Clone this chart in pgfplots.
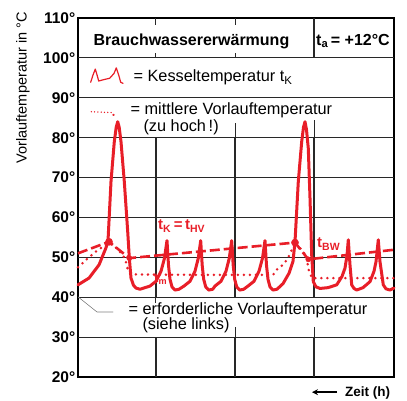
\documentclass[border=0pt]{standalone}
\usepackage{pgfplots}
\pgfplotsset{compat=1.18}
\usetikzlibrary{arrows.meta}
\usepackage{fontspec}
\setmainfont{Liberation Sans}
\definecolor{cred}{RGB}{232,30,40}
\definecolor{gridc}{RGB}{40,40,40}
\begin{document}
\begin{tikzpicture}[x=1pt,y=1pt]
\path[use as bounding box] (-78,-24) rectangle (329,377);
\begin{axis}[
 at={(0,0)}, anchor=south west,
 scale only axis, width=316pt, height=359pt,
 xmin=0, xmax=316, ymin=20, ymax=110,
 axis line style={black, line width=1.2pt},
 xtick=\empty,
 ytick={20,30,...,110},
 major tick length=0pt,
 /pgf/number format/assume math mode=true,
 yticklabel={\pgfmathprintnumber{\tick}°},
 yticklabel style={font=\fontsize{15.5}{15.5}\selectfont\bfseries, xshift=0pt, inner xsep=2.5pt},
 clip=false,
 every axis plot/.append style={line join=round, line cap=round},
]
% horizontal lines
\foreach \yy in {30,40,50,60,70,80,90,100}{
  \edef\temp{\noexpand\draw[gridc, line width=1.1pt] (axis cs:0,\yy) -- (axis cs:316,\yy);}
  \temp
}
% vertical grid segments
\foreach \xx in {78,157,236}{
  \edef\temp{\noexpand\draw[gridc, line width=1.1pt] (axis cs:\xx,20) -- (axis cs:\xx,30);
    \noexpand\draw[gridc, line width=1.1pt] (axis cs:\xx,40) -- (axis cs:\xx,80);}
  \temp
}
\draw[gridc, line width=1.1pt] (axis cs:236,100) -- (axis cs:236,110);
\draw[gridc, line width=1pt] (axis cs:78,110) -- (axis cs:78,108.3);
\draw[gridc, line width=1pt] (axis cs:157,110) -- (axis cs:157,108.3);
\draw[gridc, line width=1pt] (axis cs:78,100) -- (axis cs:78,101.3);
\draw[gridc, line width=1pt] (axis cs:157,100) -- (axis cs:157,101.3);
\draw[gridc, line width=1pt] (axis cs:157,80) -- (axis cs:157,83.6);
\draw[gridc, line width=1pt] (axis cs:236,80) -- (axis cs:236,84.4);
\draw[gridc, line width=1pt] (axis cs:78,40) -- (axis cs:78,38.5);
\draw[gridc, line width=1pt] (axis cs:157,30) -- (axis cs:157,32.5);
\draw[gridc, line width=1pt] (axis cs:236,30) -- (axis cs:236,32.5);

% leader line from the 40 degree corner
\addplot[gray, line width=0.6pt] coordinates {(0,40.1) (19,36.3) (35,36.3)};

% t_BW dashed
\addplot[cred, line width=2.6pt, dash pattern=on 10pt off 4pt, line cap=butt] coordinates {
(0,51.0) (31,53.9) (51.3,49.8) (217,53.7) (230.3,49.5) (316,51.9)};

% mittlere Vorlauftemperatur dotted
\addplot[cred, line width=2.8pt, dash pattern=on 0pt off 6pt, line cap=round] coordinates {
(0,47.5) (10,49.8) (20,51.9) (28,53.1) (31,53.6) (38,52.4) (45,50.6) (48,48.8) (50,46.8) (53,45.8)
(60,45.7) (120,45.6) (195,45.6) (200,47.3) (205,48.1) (210,49.8) (215,52.6) (222,52.4) (229,50.1)
(230,47.3) (234,44.8) (280,44.8) (316,44.8)};

% Kesseltemperatur solid
\addplot[cred, line width=3pt] coordinates {
(0,43.1) (11,44.8) (21,48.1) (28,52.4) (30,54.1) (33,69.0) (36.3,79.0) (38.2,82.6) (39.7,84.0)
(41.2,82.6) (43,79.0) (46.3,69.0) (49.7,56.5) (51.3,49.9) (53,44.8) (55.5,43.0) (58,42.3) (62,42.0)
(72,42.8) (78,44.0) (83,46.5) (86.5,49.8) (89,54.2)
(90.5,48) (92,44.5) (94,42.6) (97,41.8) (101,42.0)
(106,42.8) (112,44.0) (117,46.5) (120.3,49.8) (122.7,54.2)
(124.2,48) (125.7,44.5) (127.7,42.6) (130.7,41.8) (134.7,42.0)
(137,42.8) (143,44.0) (148,46.5) (151.3,49.8) (153.7,54.2)
(155.2,48) (156.7,44.5) (158.7,42.6) (161.7,41.8) (165.7,42.0)
(170,42.8) (176,44.0) (181,46.5) (184.5,49.8) (187,54.2)
(188.5,48) (190,44.5) (192,42.6) (195,41.8) (199,42.0)
(205,43.4) (211,46.0) (215,49.0) (217,53.9) (220.3,69.0) (223.7,79.0) (225.5,82.6) (227,84.0)
(228.5,82.0) (230.3,77.3) (232,64.9) (233.7,50.6) (235.3,43.9) (238,42.6) (242,42.2)
(250,42.4) (258.7,43.1) (264,45.2) (267,47.3) (269,50.5) (270.3,54.4)
(272,48.1) (273.7,43.1) (276,42.2) (278.7,41.8)
(285,42.4) (292,43.9) (296,46.5) (298,48.9) (300.3,54.4)
(302,48.9) (305.3,43.1) (308,42.1) (312,41.8) (316,42.3)};

% dots
\addplot[only marks, mark=*, mark size=3.6pt, cred] coordinates {(31,53.9) (217,53.7)};
\addplot[only marks, mark=*, mark size=2.6pt, cred] coordinates {(51.3,49.8) (230.3,49.5)};

% legend icons
\addplot[cred, line width=1.2pt] coordinates {
(12.7,93.9) (15,95.7) (17.3,97.2) (19.3,95.5) (20.7,94.2) (25,94.5) (31.7,94.9) (36,96.1)
(38.3,97.5) (40.7,95.7) (42.7,93.9) (45,93.6)};
\addplot[cred, line width=1.5pt, dash pattern=on 0pt off 3.3pt, line cap=round] coordinates {(13.3,86.5) (33.3,86.3)};
\addplot[only marks, mark=*, mark size=0.9pt, cred] coordinates {(35.5,85.7)};

% texts
\node[anchor=base, font=\fontsize{16}{16}\selectfont\bfseries] at (axis cs:113.5,103.2) {Brauchwassererwärmung};
\node[anchor=base, font=\fontsize{16}{16}\selectfont\bfseries] at (axis cs:275,103.2) {t\textsubscript{a}\,= +12°C};
\node[anchor=base west, font=\fontsize{16.3}{16}\selectfont] at (axis cs:52,94.0) {= Kesseltemperatur t\textsubscript{K}};
\node[anchor=base west, font=\fontsize{16.3}{16}\selectfont] at (axis cs:49,85.9) {= mittlere Vorlauftemperatur};
\node[anchor=base west, font=\fontsize{16.3}{16}\selectfont] at (axis cs:62,81.6) {(zu hoch\,!)};
\node[anchor=base west, font=\fontsize{16.3}{16}\selectfont] at (axis cs:47,35.6) {= erforderliche Vorlauftemperatur};
\node[anchor=base west, font=\fontsize{16.3}{16}\selectfont] at (axis cs:61,31.8) {(siehe links)};
\node[anchor=base west, inner sep=0pt, text=cred, font=\fontsize{15}{15}\selectfont\bfseries] at (axis cs:80,56.9) {t\textsubscript{K}\,=\,t\textsubscript{HV}};
\node[anchor=base west, inner sep=0pt, text=cred, font=\fontsize{15}{15}\selectfont\bfseries] at (axis cs:239,52.4) {t\textsubscript{BW}};
\node[anchor=base west, inner sep=0pt, text=cred, font=\fontsize{13}{13}\selectfont\bfseries] at (axis cs:76,43.6) {t\textsubscript{m}};
\node[rotate=90, font=\fontsize{14.5}{14.5}\selectfont] at (axis cs:-55,92.5) {Vorlauftemperatur in °C};
\draw[-{Stealth[length=6pt,width=6pt]}, line width=2.2pt] (axis cs:259,16.2) -- (axis cs:234,16.2);
\node[anchor=base west, inner sep=0pt, font=\fontsize{13.5}{13.5}\selectfont\bfseries] at (axis cs:267,15.0) {Zeit (h)};
\end{axis}
\end{tikzpicture}
\end{document}
